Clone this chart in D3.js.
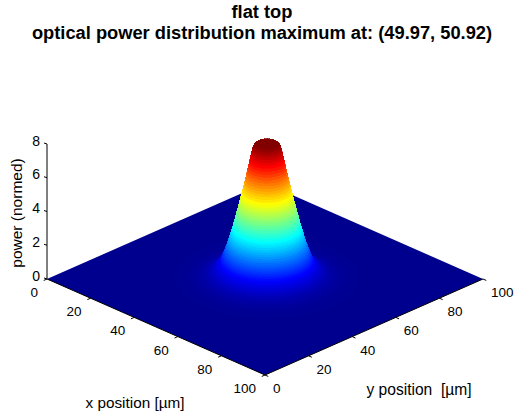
<!DOCTYPE html>
<html>
<head>
<meta charset="utf-8">
<script src="https://d3js.org/d3.v7.min.js"></script>
<style>
body { margin: 0; background: #fff; }
text { font-family: "Liberation Sans", Arial, sans-serif; fill: #000; }
</style>
</head>
<body>
<div id="chart-container"></div>
<script>
// Values
var xTicks = [0, 20, 40, 60, 80, 100];
var yTicks = [0, 20, 40, 60, 80, 100];
var zTicks = [0, 2, 4, 6, 8];
var peakCentre = [49.97, 50.92];
// radial profile of the flat top beam: distance from centre vs power
var profileRadius = [0, 3.5, 4.3, 4.8, 5.5, 6.5, 8, 9.5, 11, 12.7, 14, 15, 16, 17.5, 19, 21, 24, 28, 34];
var profilePower = [8, 7.98, 7.85, 7.55, 7, 6.2, 5.1, 4.05, 3.05, 2.05, 1.45, 1.05, 0.78, 0.5, 0.32, 0.18, 0.08, 0.02, 0];
// jet colormap stops
var jetStops = [0, 0.125, 0.375, 0.625, 0.875, 1];
var jetColors = ["#00008f", "#0000ff", "#00ffff", "#ffff00", "#ff0000", "#800000"];

var width = 521, height = 420;

var svg = d3.select("#chart-container").append("svg")
    .attr("width", width)
    .attr("height", height);

// Oblique projection of the 3D view, origin is the left corner of the plate
var origin = [47, 279];
var xToScreenX = d3.scaleLinear().domain([0, 100]).range([0, 218]);
var xToScreenY = d3.scaleLinear().domain([0, 100]).range([0, 96]);
var yToScreenX = d3.scaleLinear().domain([0, 100]).range([0, 218]);
var yToScreenY = d3.scaleLinear().domain([0, 100]).range([0, -96]);
var zToScreenY = d3.scaleLinear().domain([0, 8]).range([0, -135]);

function project(x, y, z) {
    return [
        origin[0] + xToScreenX(x) + yToScreenX(y),
        origin[1] + xToScreenY(x) + yToScreenY(y) + zToScreenY(z)
    ];
}

var profile = d3.scaleLinear().domain(profileRadius).range(profilePower).clamp(true);
var jet = d3.scaleLinear().domain(jetStops).range(jetColors);

function polygon(points) {
    return "M" + points.map(function (p) { return p[0] + "," + p[1]; }).join("L") + "Z";
}

// point of the surface at polar position around the peak
function surfacePoint(r, a) {
    return project(peakCentre[0] + r * Math.cos(a), peakCentre[1] + r * Math.sin(a), profile(r));
}

// Flat part of the plate
svg.append("path")
    .attr("d", polygon([project(0, 0, 0), project(100, 0, 0), project(100, 100, 0), project(0, 100, 0)]))
    .attr("fill", jet(0));

// Surface cells on a polar mesh, far cells first so that near ones cover them
var dr = 0.2, da = Math.PI / 90;
var cells = [];
d3.range(0, 34, dr).forEach(function (r) {
    d3.range(0, 2 * Math.PI - da / 2, da).forEach(function (a) {
        cells.push({ r: r, a: a, depth: r * (Math.cos(a + da / 2) - Math.sin(a + da / 2)) });
    });
});
cells.sort(function (p, q) { return d3.ascending(p.depth, q.depth); });

svg.append("g")
    .attr("shape-rendering", "crispEdges")
    .selectAll("path")
    .data(cells)
    .enter().append("path")
    .attr("d", function (d) {
        return polygon([
            surfacePoint(d.r, d.a),
            surfacePoint(d.r + dr, d.a),
            surfacePoint(d.r + dr, d.a + da),
            surfacePoint(d.r, d.a + da)
        ]);
    })
    .attr("fill", function (d) { return jet(profile(d.r + dr / 2) / 8); })
    .attr("stroke", function (d) { return jet(profile(d.r + dr / 2) / 8); })
    .attr("stroke-width", 0.3);

// Axis lines
function line(a, b) {
    svg.append("line")
        .attr("x1", a[0]).attr("y1", a[1])
        .attr("x2", b[0]).attr("y2", b[1])
        .attr("stroke", "#000")
        .attr("stroke-width", 1);
}

line(project(0, 0, 0), project(100, 0, 0));
line(project(100, 0, 0), project(100, 100, 0));
line(project(0, 0, 0), project(0, 0, 8));

// z axis ticks and labels
zTicks.forEach(function (t) {
    var p = project(0, 0, t);
    line(p, [p[0] - 3, p[1] - 1]);
    svg.append("text")
        .attr("x", p[0] - 7)
        .attr("y", p[1] - 2)
        .attr("text-anchor", "end")
        .attr("font-size", 14)
        .attr("dominant-baseline", "middle")
        .text(t);
});

// x axis ticks and labels
xTicks.forEach(function (t) {
    var p = project(t, 0, 0);
    line(p, project(t, -1.5, 0));
    svg.append("text")
        .attr("x", p[0] - 9)
        .attr("y", p[1] + 18)
        .attr("text-anchor", "end")
        .attr("font-size", 13.5)
        .text(t);
});

// y axis ticks and labels
yTicks.forEach(function (t) {
    var p = project(100, t, 0);
    line(p, project(101.5, t, 0));
    svg.append("text")
        .attr("x", p[0] + 8)
        .attr("y", p[1] + 18)
        .attr("font-size", 13.5)
        .text(t);
});

// Axis titles
svg.append("text")
    .attr("x", 135).attr("y", 408)
    .attr("text-anchor", "middle")
    .attr("font-size", 15.3)
    .text("x position [µm]");

svg.append("text")
    .attr("x", 419).attr("y", 395)
    .attr("text-anchor", "middle")
    .attr("font-size", 15.6)
    .attr("xml:space", "preserve")
    .text("y position  [µm]");

svg.append("text")
    .attr("transform", "translate(22,213) rotate(-90)")
    .attr("text-anchor", "middle")
    .attr("font-size", 15.5)
    .text("power (normed)");

// Title
svg.append("text")
    .attr("x", 262).attr("y", 18)
    .attr("text-anchor", "middle")
    .attr("font-size", 18.3)
    .attr("font-weight", "bold")
    .text("flat top");

svg.append("text")
    .attr("x", 262).attr("y", 38.5)
    .attr("text-anchor", "middle")
    .attr("font-size", 18.3)
    .attr("font-weight", "bold")
    .text("optical power distribution maximum at: (49.97, 50.92)");
</script>
</body>
</html>
